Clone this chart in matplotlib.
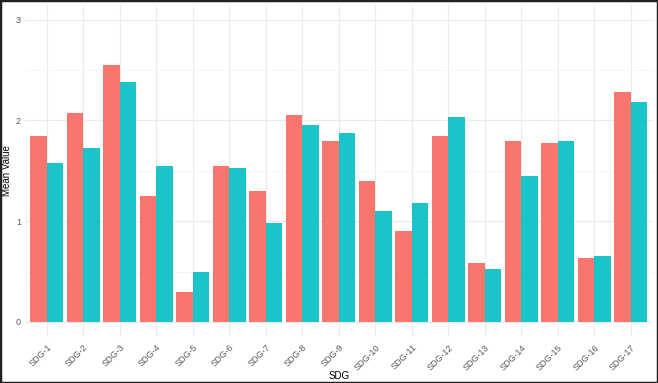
import matplotlib.pyplot as plt
import numpy as np

# données
sdg = ['SDG-' + str(i) for i in range(1, 18)]
serie_a = [1.85, 2.07, 2.55, 1.25, 0.30, 1.55, 1.30, 2.05, 1.80,
           1.40, 0.90, 1.85, 0.58, 1.80, 1.78, 0.63, 2.28]
serie_b = [1.58, 1.73, 2.38, 1.55, 0.50, 1.53, 0.98, 1.95, 1.88,
           1.10, 1.18, 2.03, 0.53, 1.45, 1.80, 0.65, 2.18]

plt.rcParams['font.family'] = ['Liberation Sans', 'DejaVu Sans']

fig = plt.figure(figsize=(6.58, 3.83), dpi=100)
ax = fig.add_axes([0.038, 0.12, 0.954, 0.868])

x = np.arange(1, len(sdg) + 1)
w = 0.45
ax.bar(x - w / 2, serie_a, width=w, color='#F8766D', zorder=3)
ax.bar(x + w / 2, serie_b, width=w, color='#00BFC4', zorder=3, alpha=0.9)

ax.set_xlim(0.4, 17.6)
ax.set_ylim(-0.15, 3.15)
ax.set_xticks(x)
ax.set_xticklabels(sdg, rotation=45, ha='right', rotation_mode='anchor')
ax.set_yticks([0, 1, 2, 3])
ax.set_yticks([0.5, 1.5, 2.5], minor=True)

ax.grid(True, which='major', color='#EBEBEB', linewidth=0.8, zorder=0)
ax.grid(True, which='minor', axis='y', color='#F3F3F3', linewidth=0.5, zorder=0)
for s in ax.spines.values():
    s.set_visible(False)
ax.tick_params(which='both', length=0, labelsize=6.5, labelcolor='#5A5A5A', pad=3)
ax.tick_params(axis='x', pad=4)

ax.set_xlabel('SDG', fontsize=7, labelpad=-1)
ax.set_ylabel('Mean Value', fontsize=7, labelpad=3)

# bordure noire autour de la figure
fig.patches.append(plt.Rectangle((0, 0), 1, 1, transform=fig.transFigure,
                                 fill=False, edgecolor='#222222', linewidth=2.5))

plt.savefig('out.png', dpi=100)
